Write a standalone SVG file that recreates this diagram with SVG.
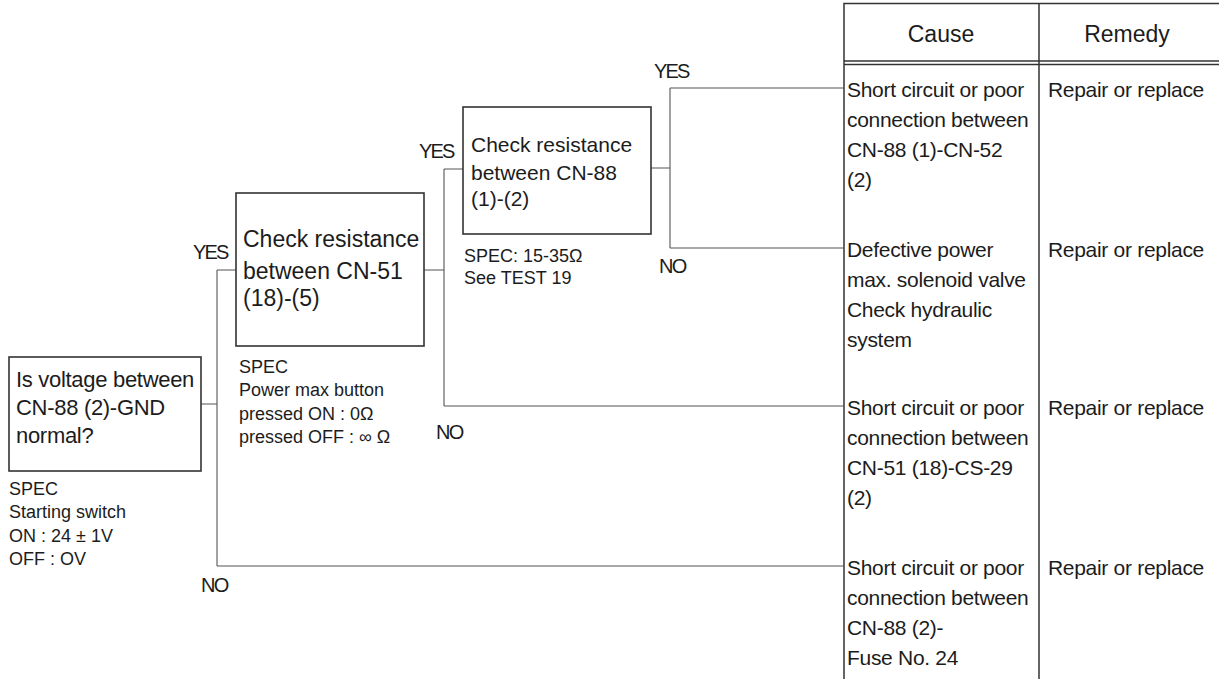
<svg xmlns="http://www.w3.org/2000/svg" width="1219" height="679" viewBox="0 0 1219 679">
<style>
text{font-family:"Liberation Sans",Arial,sans-serif;fill:#1c1c1c}
.box{fill:none;stroke:#333;stroke-width:1.6}
.con{fill:none;stroke:#555;stroke-width:1.1}
.tbl{fill:none;stroke:#333;stroke-width:1.5}
.bt{font-size:22px}
.sp{font-size:18px}
.lb{font-size:20px;letter-spacing:-1.8px}
.ct{font-size:21px;letter-spacing:-0.3px}
.hd{font-size:23px}
</style>
<rect width="1219" height="679" fill="#fff"/>
<g id="table">
<path class="tbl" d="M844,679 V3.5 H1219 M844,61 H1219 M844,64.5 H1219 M1039,3.5 V679"/>
<text class="hd" x="941" y="42" text-anchor="middle">Cause</text>
<text class="hd" x="1127" y="42" text-anchor="middle">Remedy</text>
</g>
<g id="connectors">
<path class="con" d="M201,404 H217 M217,270 V566 M217,270 H236 M217,566 H844"/>
<path class="con" d="M424,270 H444 M444,169 V406 M444,169 H463 M444,406 H844"/>
<path class="con" d="M651,168 H670 M670,88 V248 M670,88 H844 M670,248 H844"/>
<text class="lb" x="193" y="259">YES</text>
<text class="lb" x="201" y="592">NO</text>
<text class="lb" x="419" y="158">YES</text>
<text class="lb" x="436" y="439">NO</text>
<text class="lb" x="654" y="78">YES</text>
<text class="lb" x="659" y="273">NO</text>
</g>
<g id="n1">
<rect class="box" x="9" y="357" width="192" height="114"/>
<text class="bt" x="16" y="387" style="letter-spacing:-0.3px">Is voltage between</text>
<text class="bt" x="16" y="415" style="letter-spacing:-0.3px">CN-88 (2)-GND</text>
<text class="bt" x="16" y="443" style="letter-spacing:-0.3px">normal?</text>
<text class="sp" x="9" y="495">SPEC</text>
<text class="sp" x="9" y="518">Starting switch</text>
<text class="sp" x="9" y="542">ON : 24 ± 1V</text>
<text class="sp" x="9" y="565">OFF : OV</text>
</g>
<g id="n2">
<rect class="box" x="236" y="193" width="188" height="153"/>
<text class="bt" x="243" y="247" style="font-size:23px">Check resistance</text>
<text class="bt" x="243" y="279" style="font-size:23px">between CN-51</text>
<text class="bt" x="243" y="306" style="font-size:23px">(18)-(5)</text>
<text class="sp" x="239" y="373">SPEC</text>
<text class="sp" x="239" y="396">Power max button</text>
<text class="sp" x="239" y="420">pressed ON : 0Ω</text>
<text class="sp" x="239" y="443">pressed OFF : ∞ Ω</text>
</g>
<g id="n3">
<rect class="box" x="463" y="107" width="188" height="127"/>
<text class="bt" x="471" y="152" style="font-size:21px">Check resistance</text>
<text class="bt" x="471" y="180" style="font-size:21px">between CN-88</text>
<text class="bt" x="471" y="206" style="font-size:21px">(1)-(2)</text>
<text class="sp" x="464" y="262">SPEC: 15-35Ω</text>
<text class="sp" x="464" y="284">See TEST 19</text>
</g>
<g id="r1">
<text class="ct" x="847" y="97">Short circuit or poor</text>
<text class="ct" x="847" y="127">connection between</text>
<text class="ct" x="847" y="157">CN-88 (1)-CN-52</text>
<text class="ct" x="847" y="187">(2)</text>
<text class="ct" x="1048" y="97">Repair or replace</text>
</g>
<g id="r2">
<text class="ct" x="847" y="257">Defective power</text>
<text class="ct" x="847" y="287">max. solenoid valve</text>
<text class="ct" x="847" y="317">Check hydraulic</text>
<text class="ct" x="847" y="347">system</text>
<text class="ct" x="1048" y="257">Repair or replace</text>
</g>
<g id="r3">
<text class="ct" x="847" y="415">Short circuit or poor</text>
<text class="ct" x="847" y="445">connection between</text>
<text class="ct" x="847" y="475">CN-51 (18)-CS-29</text>
<text class="ct" x="847" y="505">(2)</text>
<text class="ct" x="1048" y="415">Repair or replace</text>
</g>
<g id="r4">
<text class="ct" x="847" y="575">Short circuit or poor</text>
<text class="ct" x="847" y="605">connection between</text>
<text class="ct" x="847" y="635">CN-88 (2)-</text>
<text class="ct" x="847" y="665">Fuse No. 24</text>
<text class="ct" x="1048" y="575">Repair or replace</text>
</g>
</svg>
